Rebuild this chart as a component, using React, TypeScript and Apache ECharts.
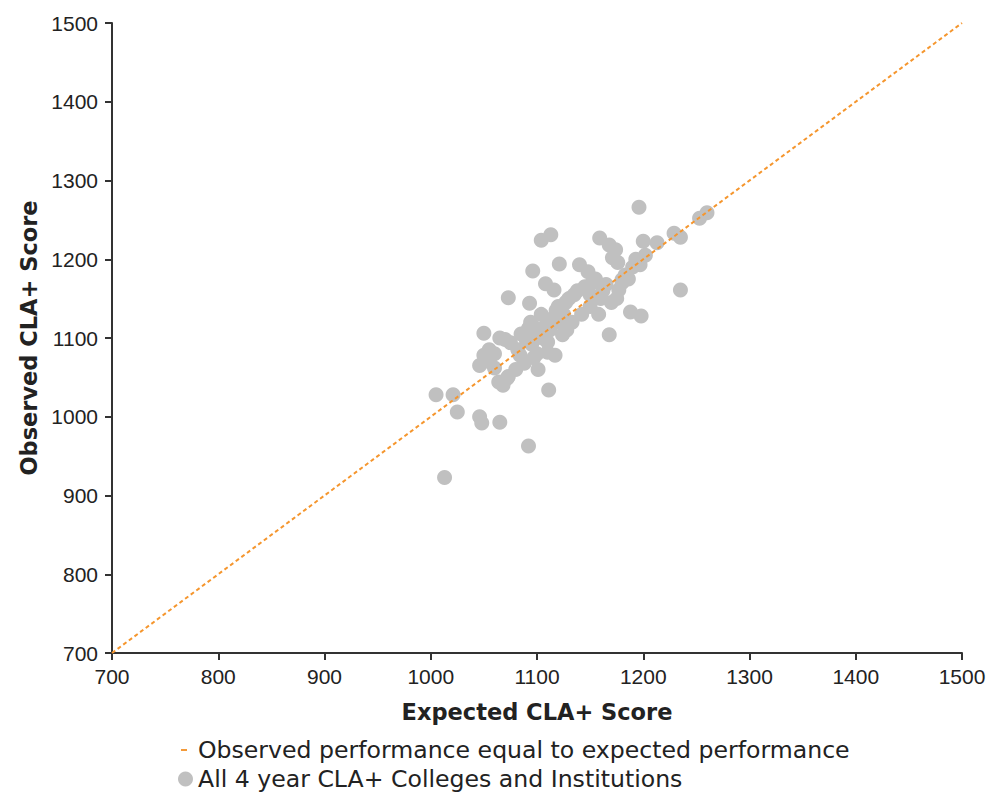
import React, { useEffect, useRef } from "react";
import * as echarts from "echarts";

const xTicks = [700, 800, 900, 1000, 1100, 1200, 1300, 1400, 1500];
const equalLineLabel = "Observed performance equal to expected performance";
const schoolsLabel = "All 4 year CLA+ Colleges and Institutions";
const equalLine: [number, number][] = [
  [700, 700],
  [1500, 1500],
];
const expected = [
  1005, 1021, 1025, 1013, 1046, 1048, 1065, 1092, 1111, 1050, 1050, 1046, 1055, 1060, 1064, 1068, 1072, 1073,
  1070, 1075, 1073, 1082, 1084, 1088, 1090, 1092, 1094, 1097, 1097, 1101, 1104, 1096, 1093, 1104, 1113, 1121,
  1108, 1116, 1117, 1110, 1112, 1115, 1118, 1120, 1124, 1127, 1130, 1133, 1135, 1138, 1140, 1142, 1145, 1148,
  1150, 1152, 1155, 1158, 1159, 1160, 1162, 1165, 1168, 1168, 1170, 1171, 1174, 1176, 1175, 1180, 1183, 1186,
  1188, 1190, 1193, 1196, 1198, 1200, 1202, 1213, 1229, 1235, 1235, 1253, 1260, 1100, 1105, 1108, 1110, 1120,
  1125, 1128, 1080, 1060, 1065, 1085, 1095, 1100, 1055, 1150, 1177, 1180, 1197,
];
const observed = [
  1028, 1028, 1006, 923, 1000, 992, 993, 963, 1034, 1106, 1078, 1065, 1070, 1062, 1044, 1040, 1049, 1051,
  1098, 1094, 1151, 1085, 1078, 1068, 1097, 1112, 1120, 1103, 1075, 1060, 1130, 1185, 1144, 1224, 1231, 1194,
  1169, 1161, 1078, 1082, 1110, 1125, 1135, 1140, 1104, 1145, 1150, 1120, 1155, 1160, 1193, 1130, 1165, 1184,
  1140, 1170, 1175, 1130, 1227, 1150, 1160, 1168, 1218, 1104, 1145, 1202, 1212, 1196, 1150, 1170, 1180, 1175,
  1133, 1190, 1200, 1266, 1128, 1223, 1205, 1221, 1233, 1228, 1161, 1252, 1259, 1112, 1100, 1115, 1095, 1120,
  1130, 1110, 1060, 1080, 1100, 1105, 1092, 1080, 1085, 1155, 1161, 1174, 1193,
];

const axisColor = "#333333";
const labelFont = { fontFamily: "Liberation Sans, Arial, sans-serif", fontSize: 21, color: "#222" };
const titleFont = { fontFamily: "DejaVu Sans, sans-serif", fontSize: 22.5, fontWeight: "bold" as const, color: "#222" };
const legendFont = { fontFamily: "DejaVu Sans, sans-serif", fontSize: 23.6, color: "#222" };

export default function App() {
  const ref = useRef<HTMLDivElement>(null);
  useEffect(() => {
    document.body.style.margin = "0";
    document.body.style.overflow = "hidden";
    if (!ref.current) return;
    const chart = echarts.init(ref.current, undefined, { renderer: "svg" });
    const axisCommon = {
      type: "value" as const,
      min: xTicks[0],
      max: xTicks[xTicks.length - 1],
      interval: 100,
      splitLine: { show: false },
      axisLine: { show: true, lineStyle: { color: axisColor, width: 2 } },
      axisTick: { show: true, length: 7, lineStyle: { color: axisColor, width: 2 } },
      nameLocation: "middle" as const,
      nameTextStyle: titleFont,
    };
    chart.setOption({
      animation: false,
      backgroundColor: "#ffffff",
      grid: { left: 112, right: 27, top: 23, bottom: 143, containLabel: false },
      xAxis: {
        ...axisCommon,
        name: "Expected CLA+ Score",
        nameGap: 47,
        axisLabel: { ...labelFont, margin: 13, formatter: (v: number) => String(v) },
      },
      yAxis: {
        ...axisCommon,
        name: "Observed CLA+ Score",
        nameGap: 69,
        axisLabel: { ...labelFont, margin: 14, formatter: (v: number) => String(v) },
      },
      legend: [
        {
          orient: "vertical",
          left: 176,
          top: 733,
          itemWidth: 6,
          itemHeight: 2,
          icon: "rect",
          data: [{ name: equalLineLabel, itemStyle: { color: "#F39A3A" } }],
          textStyle: { ...legendFont, padding: [0, 0, 0, 6] },
          selectedMode: false,
        },
        {
          orient: "vertical",
          left: 173,
          top: 762,
          itemWidth: 15,
          itemHeight: 15,
          icon: "circle",
          data: [{ name: schoolsLabel, itemStyle: { color: "#C0C0C0" } }],
          textStyle: { ...legendFont, padding: [0, 0, 0, 0] },
          selectedMode: false,
        },
      ],
      series: [
        {
          name: schoolsLabel,
          type: "scatter",
          symbol: "circle",
          symbolSize: 15,
          itemStyle: { color: "#C0C0C0", opacity: 1 },
          data: expected.map((x, i) => [x, observed[i]]),
          z: 2,
        },
        {
          name: equalLineLabel,
          type: "line",
          symbol: "none",
          data: equalLine,
          lineStyle: { color: "#F5962E", width: 2, type: [4, 3] },
          z: 3,
        },
      ],
    });
    return () => chart.dispose();
  }, []);
  return <div ref={ref} style={{ width: 989, height: 796 }} />;
}
